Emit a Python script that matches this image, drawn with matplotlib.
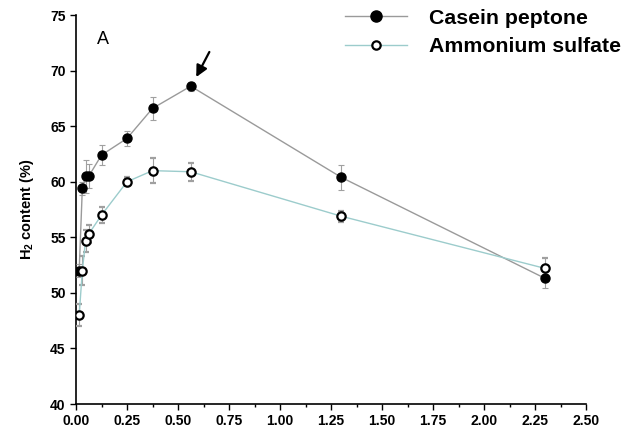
import matplotlib.pyplot as plt
from matplotlib.lines import Line2D

# data
x_casein = [0.0156, 0.031, 0.047, 0.0625, 0.125, 0.25, 0.375, 0.5625, 1.3, 2.3]
y_casein = [52.0, 59.4, 60.5, 60.5, 62.4, 63.9, 66.6, 68.6, 60.4, 51.3]
e_casein = [0.6, 0.6, 1.5, 1.1, 0.9, 0.7, 1.0, 0.4, 1.1, 0.9]

x_amm = [0.0156, 0.031, 0.047, 0.0625, 0.125, 0.25, 0.375, 0.5625, 1.3, 2.3]
y_amm = [48.0, 52.0, 54.7, 55.3, 57.0, 60.0, 61.0, 60.9, 56.9, 52.2]
e_amm = [1.0, 1.3, 1.0, 0.8, 0.7, 0.4, 1.1, 0.8, 0.5, 0.9]

xticks = [0.00, 0.25, 0.50, 0.75, 1.00, 1.25, 1.50, 1.75, 2.00, 2.25, 2.50]
yticks = [40, 45, 50, 55, 60, 65, 70, 75]

plt.rcParams['font.family'] = ['Liberation Sans', 'DejaVu Sans']
plt.rcParams['font.weight'] = 'bold'
plt.rcParams['mathtext.default'] = 'regular'

fig = plt.figure(figsize=(6.25, 4.38), dpi=100)
ax = fig.add_axes([0.1216, 0.0776, 0.816, 0.888])

c_line = '#9a9a9a'
a_line = '#9ccccc'

ax.errorbar(x_casein, y_casein, yerr=e_casein, color=c_line, lw=1.0,
            ecolor='#a0a0a0', elinewidth=0.8, capsize=2, capthick=0.8,
            marker='o', ms=6.5, mfc='black', mec='black', zorder=3)
ax.errorbar(x_amm, y_amm, yerr=e_amm, color=a_line, lw=1.0,
            ecolor='#a0a0a0', elinewidth=0.8, capsize=2, capthick=0.8,
            marker='o', ms=6, mfc='white', mec='black', mew=1.6, zorder=3)

ax.set_xlim(0, 2.5)
ax.set_ylim(40, 75)
ax.set_xticks(xticks)
ax.set_xticklabels([f'{t:.2f}' for t in xticks], fontweight='bold')
ax.set_yticks(yticks)
ax.set_yticklabels([str(t) for t in yticks], fontweight='bold')
ax.set_xticks([0.125 + 0.25 * i for i in range(10)], minor=True)
ax.tick_params(axis='both', which='major', direction='out', length=4, width=1,
               labelsize=10)
ax.tick_params(axis='x', which='minor', direction='out', length=2.5, width=1)
ax.spines['top'].set_visible(False)
ax.spines['right'].set_visible(False)
ax.spines['left'].set_linewidth(1.2)
ax.spines['bottom'].set_linewidth(1.2)

ax.set_ylabel('H$_2$ content (%)', fontsize=10.5, fontweight='bold', labelpad=10)

ax.text(0.103, 72.4, 'A', fontsize=13, fontweight='normal')
ax.annotate('', xy=(0.583, 69.2), xytext=(0.66, 71.9),
            arrowprops=dict(arrowstyle='-|>', color='black', lw=1.6,
                            mutation_scale=17))

handles = [
    Line2D([], [], color=c_line, lw=1.0, marker='o', ms=8, mfc='black', mec='black'),
    Line2D([], [], color=a_line, lw=1.0, marker='o', ms=6, mfc='white', mec='black', mew=1.6),
]
ax.legend(handles, ['Casein peptone', 'Ammonium sulfate'], loc='upper left',
          bbox_to_anchor=(0.49, 1.065), frameon=False,
          prop={'size': 15.3, 'weight': 'bold'}, handlelength=2.9,
          handletextpad=1.05, labelspacing=0.45)

fig.savefig('out.png', dpi=100)
